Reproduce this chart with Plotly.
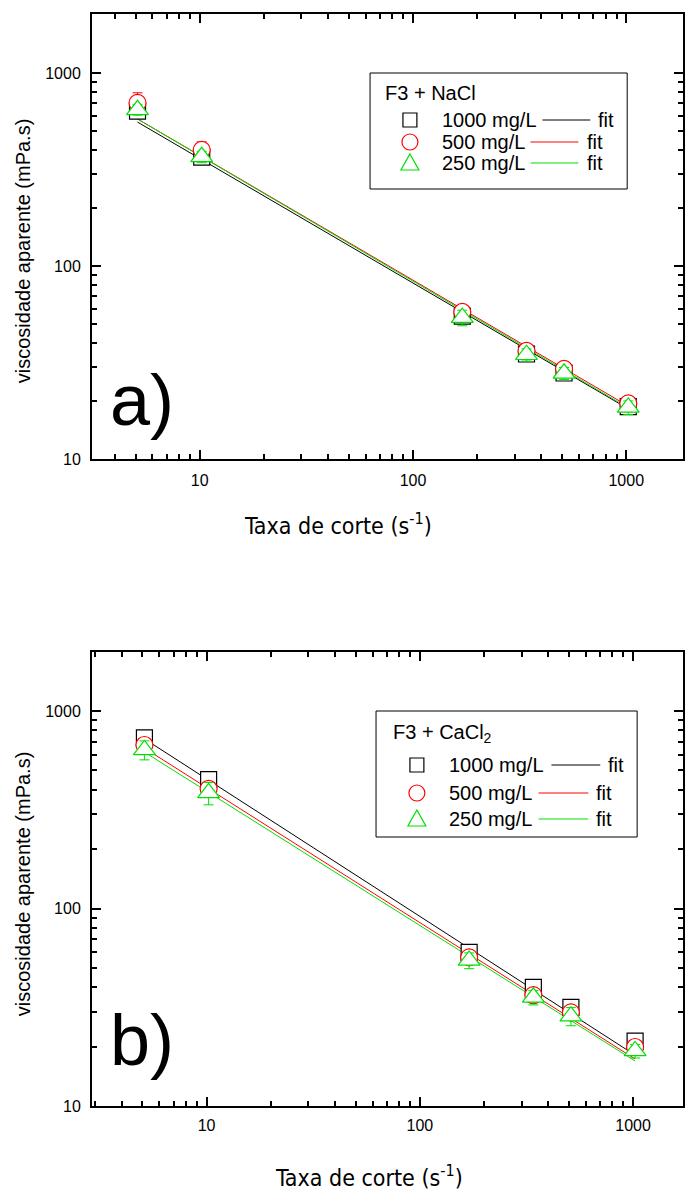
import plotly.graph_objects as go

# ---------------- data ----------------
shear_rate = [5.11, 10.22, 170.3, 340.6, 510.9, 1021.8]

# (a) F3 + NaCl
nacl_1000 = [635, 367, 55.0, 35.0, 27.9, 18.7]
nacl_500 = [700, 400, 57.8, 36.3, 29.3, 19.4]
nacl_250 = [645, 368, 54.0, 34.7, 27.8, 18.5]
nacl_1000_err = [30, 20, 3, 2, 1.5, 1]
nacl_500_err = [90, 40, 3, 2, 1.5, 1]
nacl_250_err = [40, 25, 5, 2.5, 2, 1.5]

# (b) F3 + CaCl2
cacl_1000 = [731, 449, 60.0, 39.9, 31.6, 21.3]
cacl_500 = [673, 404, 56.6, 36.4, 29.8, 19.9]
cacl_250 = [636, 385, 54.6, 35.5, 28.5, 19.0]
cacl_1000_err = [20, 15, 2, 1.5, 1, 1]
cacl_500_err = [40, 25, 3, 2, 1.5, 1]
cacl_250_err = [70, 50, 5, 3, 3, 1.5]

# power-law fit lines (end points)
fit_x = [5.11, 1021.8]
nacl_fit_1000 = [557, 18.2]
nacl_fit_500 = [578, 18.8]
nacl_fit_250 = [578, 18.4]
cacl_fit_1000 = [723, 18.1]
cacl_fit_500 = [649, 17.3]
cacl_fit_250 = [620, 16.9]

series_labels = ["1000 mg/L", "500 mg/L", "250 mg/L"]
colors = ["black", "red", "#00e000"]
symbols = ["square", "circle", "triangle-up"]
sizes = [16, 17, 19]

x_ticks = [10, 100, 1000]
y_ticks = [10, 100, 1000]

# ---------------- figure ----------------
W, H = 685, 1192
ML, MR, MT, MB = 92, 0, 14, 86
PW, PH = W - ML - MR, H - MT - MB


def px(X):
    return (X - ML) / PW


def py(Y):
    return (H - MB - Y) / PH


fig = go.Figure()

panels = [
    ("x", "y", [nacl_1000, nacl_500, nacl_250], [nacl_1000_err, nacl_500_err, nacl_250_err],
     [nacl_fit_1000, nacl_fit_500, nacl_fit_250]),
    ("x2", "y2", [cacl_1000, cacl_500, cacl_250], [cacl_1000_err, cacl_500_err, cacl_250_err],
     [cacl_fit_1000, cacl_fit_500, cacl_fit_250]),
]

for xa, ya, vals, errs, fits in panels:
    for i in range(3):
        fig.add_trace(go.Scatter(
            x=fit_x, y=fits[i], mode="lines", xaxis=xa, yaxis=ya,
            line=dict(color=colors[i], width=1), showlegend=False, hoverinfo="skip"))
    for i in range(3):
        fig.add_trace(go.Scatter(
            x=shear_rate, y=vals[i], mode="markers", xaxis=xa, yaxis=ya,
            name=series_labels[i], showlegend=False,
            marker=dict(symbol=symbols[i], size=sizes[i], color="white",
                        line=dict(width=1.2, color=colors[i])),
            error_y=dict(type="data", array=errs[i], color=colors[i], thickness=1, width=5)))

tick_font = dict(family="Liberation Sans, Arial, sans-serif", size=16, color="black")
minor_vals = [m * 10 ** e for e in range(0, 4) for m in range(2, 10)]


def axis_common():
    return dict(
        type="log", showline=True, linewidth=2, linecolor="black", mirror="allticks",
        ticks="inside", ticklen=9, tickwidth=2, tickcolor="black",
        showgrid=False, zeroline=False, tickfont=tick_font,
        minor=dict(ticks="inside", ticklen=5, tickwidth=1.5, tickcolor="black",
                   showgrid=False, tickmode="array", tickvals=minor_vals),
    )


xa1 = axis_common()
xa1.update(range=[0.495, 3.266], tickmode="array", tickvals=x_ticks,
           ticktext=[str(v) for v in x_ticks], anchor="y", domain=[0, 1], ticklabelstandoff=6)
ya1 = axis_common()
ya1.update(range=[1, 3.306], tickmode="array", tickvals=y_ticks,
           ticktext=[str(v) for v in y_ticks], anchor="x", domain=[py(459), 1], ticklabelstandoff=6)
xa2 = axis_common()
xa2.update(range=[0.4626, 3.234], tickmode="array", tickvals=x_ticks,
           ticktext=[str(v) for v in x_ticks], anchor="y2", domain=[0, 1], ticklabelstandoff=4)
ya2 = axis_common()
ya2.update(range=[1, 3.299], tickmode="array", tickvals=y_ticks,
           ticktext=[str(v) for v in y_ticks], anchor="x2", domain=[0, py(652)], ticklabelstandoff=6)

annotations = []
shapes = []

txt_font = "Liberation Sans, Arial, sans-serif"
narrow_font = "Liberation Sans Narrow, Arial Narrow, DejaVu Sans Condensed, sans-serif"

# axis titles
for cy in (251, 884):
    annotations.append(dict(text="viscosidade aparente (mPa.s)", x=px(23), y=py(cy),
                            xref="paper", yref="paper", textangle=-90, showarrow=False,
                            xanchor="center", yanchor="middle",
                            font=dict(family=txt_font, size=20, color="black")))
for cx, cy in ((339, 524), (370, 1176)):
    annotations.append(dict(text="Taxa de corte (s<sup>-1</sup>)", x=px(cx), y=py(cy),
                            xref="paper", yref="paper", showarrow=False,
                            xanchor="center", yanchor="middle",
                            font=dict(family=narrow_font, size=23, color="black")))
# panel letters
for lab, cx, cy in (("a)", 142, 400), ("b)", 142, 1040)):
    annotations.append(dict(text=lab, x=px(cx), y=py(cy), xref="paper", yref="paper",
                            showarrow=False, xanchor="center", yanchor="middle",
                            font=dict(family=txt_font, size=72, color="black")))

# legends
legends = [
    dict(box=(371, 73, 629, 189), title="F3 + NaCl", title_pos=(384, 93),
         rows=[120, 142, 163], sym_x=411, text_x=441,
         lines=[(544, 592), (532, 580), (532, 580)], fit_x=[598, 587, 587]),
    dict(box=(377, 711, 639, 837), title="F3 + CaCl<sub>2</sub>", title_pos=(392, 733),
         rows=[765, 793, 819], sym_x=418, text_x=448,
         lines=[(553, 602), (540, 590), (540, 590)], fit_x=[608, 596, 596]),
]
lf = dict(family=txt_font, size=20, color="black")
for lg in legends:
    x0, y0, x1, y1 = lg["box"]
    shapes.append(dict(type="rect", xref="paper", yref="paper", x0=px(x0), x1=px(x1),
                       y0=py(y1), y1=py(y0), line=dict(color="black", width=1),
                       fillcolor="white", layer="above"))
    annotations.append(dict(text=lg["title"], x=px(lg["title_pos"][0]), y=py(lg["title_pos"][1]),
                            xref="paper", yref="paper", showarrow=False,
                            xanchor="left", yanchor="middle", font=lf))
    for i, ry in enumerate(lg["rows"]):
        sx = lg["sym_x"]
        if i == 0:
            shapes.append(dict(type="rect", xref="paper", yref="paper",
                               x0=px(sx - 7), x1=px(sx + 7), y0=py(ry + 7), y1=py(ry - 7),
                               line=dict(color=colors[i], width=1.2), layer="above"))
        elif i == 1:
            shapes.append(dict(type="circle", xref="paper", yref="paper",
                               x0=px(sx - 8), x1=px(sx + 8), y0=py(ry + 8), y1=py(ry - 8),
                               line=dict(color=colors[i], width=1.2), layer="above"))
        else:
            path = "M{},{} L{},{} L{},{} Z".format(px(sx - 9), py(ry + 7), px(sx + 9), py(ry + 7),
                                                   px(sx), py(ry - 9))
            shapes.append(dict(type="path", xref="paper", yref="paper", path=path,
                               line=dict(color=colors[i], width=1.2), layer="above"))
        annotations.append(dict(text=series_labels[i], x=px(lg["text_x"]), y=py(ry),
                                xref="paper", yref="paper", showarrow=False,
                                xanchor="left", yanchor="middle", font=lf))
        la, lb = lg["lines"][i]
        shapes.append(dict(type="line", xref="paper", yref="paper", x0=px(la), x1=px(lb),
                           y0=py(ry), y1=py(ry), line=dict(color=colors[i], width=1),
                           layer="above"))
        annotations.append(dict(text="fit", x=px(lg["fit_x"][i]), y=py(ry),
                                xref="paper", yref="paper", showarrow=False,
                                xanchor="left", yanchor="middle", font=lf))

fig.update_layout(
    width=W, height=H,
    margin=dict(l=ML, r=MR, t=MT, b=MB, pad=0),
    paper_bgcolor="white", plot_bgcolor="white",
    xaxis=xa1, yaxis=ya1, xaxis2=xa2, yaxis2=ya2,
    annotations=annotations, shapes=shapes, showlegend=False,
)

fig.write_html("out.html", config={"displayModeBar": False},
               post_script="document.body.style.margin='0px';document.body.style.overflow='hidden';")
